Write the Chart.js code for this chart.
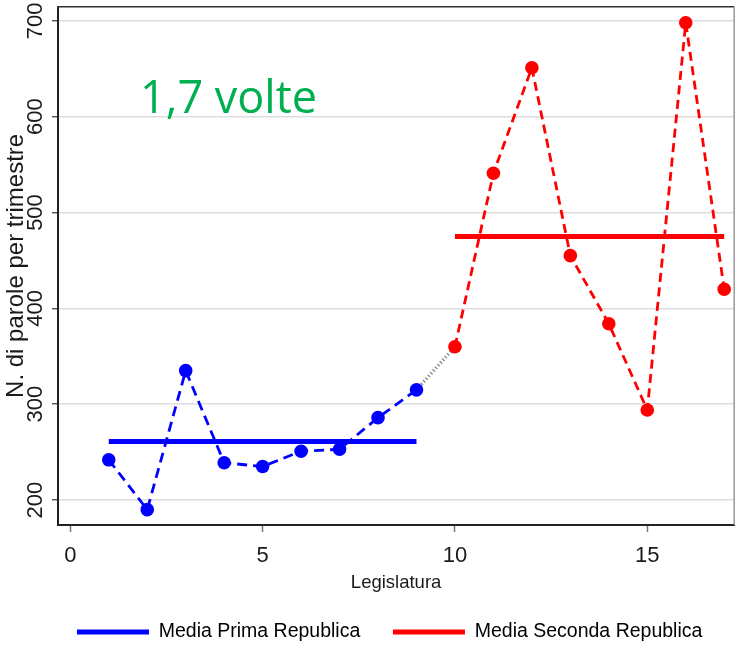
<!DOCTYPE html>
<html>
<head>
<meta charset="utf-8">
<script src="https://cdn.jsdelivr.net/npm/chart.js@4/dist/chart.umd.min.js"></script>
<style>
html,body{margin:0;padding:0;background:#fff}
canvas{display:block}
</style>
</head>
<body>
<canvas id="c" width="741" height="649"></canvas>
<script>
// ---- data ----
const primaLegislature = [1, 2, 3, 4, 5, 6, 7, 8, 9];
const primaValues = [242, 190, 335, 239, 235, 251, 253, 286, 315];
const secondaLegislature = [10, 11, 12, 13, 14, 15, 16, 17];
const secondaValues = [360, 541, 651, 455, 384, 294, 698, 420];
const primaMean = 261;
const secondaMean = 475;
const meanLabels = ['Media Prima Republica', 'Media Seconda Republica'];
const xTickValues = [0, 5, 10, 15];
const yTickValues = [200, 300, 400, 500, 600, 700];
const annotationText = '1,7 volte';
const xTitle = 'Legislatura';
const yTitle = 'N. di parole per trimestre';

// ---- styles ----
const BLUE = '#0000FF';
const RED = '#FF0000';
const FONT = '"Liberation Sans", Arial, sans-serif';
Chart.defaults.font.family = FONT;

const toPoints = (xs, ys) => xs.map((x, i) => ({x: x, y: ys[i]}));

const primaPts = toPoints(primaLegislature, primaValues);
const secondaPts = toPoints(secondaLegislature, secondaValues);
const connectorPts = [primaPts[primaPts.length - 1], secondaPts[0]];
const primaMeanPts = [
  {x: primaLegislature[0], y: primaMean},
  {x: primaLegislature[primaLegislature.length - 1], y: primaMean}
];
const secondaMeanPts = [
  {x: secondaLegislature[0], y: secondaMean},
  {x: secondaLegislature[secondaLegislature.length - 1], y: secondaMean}
];

const framePlugin = {
  id: 'frame',
  afterDraw(chart) {
    const {ctx, chartArea: a} = chart;
    ctx.save();
    ctx.lineWidth = 1.5;
    ctx.strokeStyle = '#333';
    ctx.beginPath();
    ctx.moveTo(a.left - 1, a.top);
    ctx.lineTo(a.right, a.top);
    ctx.stroke();
    ctx.strokeStyle = '#9a9a9a';
    ctx.beginPath();
    ctx.moveTo(a.right, a.top);
    ctx.lineTo(a.right, a.bottom);
    ctx.stroke();
    ctx.restore();
  }
};

const notePlugin = {
  id: 'note',
  afterDatasetsDraw(chart) {
    const {ctx, chartArea: a} = chart;
    ctx.save();
    ctx.font = '45px "Open Sans", sans-serif';
    ctx.fillStyle = '#00B050';
    ctx.textAlign = 'left';
    ctx.textBaseline = 'alphabetic';
    ctx.fillText(annotationText, a.left + 82, a.top + 106);
    ctx.restore();
  }
};

new Chart(document.getElementById('c'), {
  type: 'scatter',
  data: {
    datasets: [
      {
        label: meanLabels[0], data: primaMeanPts, showLine: true,
        borderColor: BLUE, backgroundColor: BLUE, borderWidth: 5,
        pointRadius: 0, borderCapStyle: 'butt'
      },
      {
        label: meanLabels[1], data: secondaMeanPts, showLine: true,
        borderColor: RED, backgroundColor: RED, borderWidth: 5,
        pointRadius: 0, borderCapStyle: 'butt'
      },
      {
        label: 'Prima', data: primaPts, showLine: true,
        borderColor: BLUE, backgroundColor: BLUE, borderWidth: 2.8,
        borderDash: [10, 6], pointRadius: 6.8, pointBorderWidth: 0
      },
      {
        label: 'Seconda', data: secondaPts, showLine: true,
        borderColor: RED, backgroundColor: RED, borderWidth: 2.8,
        borderDash: [9, 5.5], pointRadius: 6.8, pointBorderWidth: 0
      },
      {
        label: 'link', data: connectorPts, showLine: true,
        borderColor: '#8c8c8c', borderWidth: 3.5,
        borderDash: [1.4, 2.2], pointRadius: 0
      }
    ]
  },
  options: {
    responsive: false,
    animation: false,
    devicePixelRatio: 1,
    layout: {padding: {left: 0, right: 6, top: 6, bottom: -2.75}},
    plugins: {
      tooltip: {enabled: false},
      legend: {
        position: 'bottom',
        fullSize: true,
        align: 'end',
        labels: {
          boxWidth: 72,
          boxHeight: 5,
          padding: 32.65,
          color: '#1a1a1a',
          font: {size: 19.5, family: FONT},
          generateLabels: () => meanLabels.map((t, i) => ({
            text: t,
            fillStyle: i === 0 ? BLUE : RED,
            strokeStyle: i === 0 ? BLUE : RED,
            lineWidth: 0,
            hidden: false,
            datasetIndex: i
          }))
        }
      }
    },
    scales: {
      x: {
        type: 'linear',
        min: -0.32,
        max: 17.26,
        afterBuildTicks: s => { s.ticks = xTickValues.map(v => ({value: v})); },
        afterFit: s => { s.height = 64.6; },
        ticks: {
          padding: 10.8,
          color: '#1a1a1a',
          font: {size: 22, family: FONT}
        },
        grid: {
          drawOnChartArea: false,
          drawTicks: true,
          tickLength: 7,
          tickColor: '#777',
          tickWidth: 1.5
        },
        border: {display: true, color: '#222', width: 2},
        title: {
          display: true, text: xTitle, color: '#1a1a1a',
          font: {size: 18.5, family: FONT},
          padding: {top: 0, bottom: -4}
        }
      },
      y: {
        type: 'linear',
        min: 174,
        max: 714.6,
        afterBuildTicks: s => { s.ticks = yTickValues.map(v => ({value: v})); },
        afterFit: s => { s.width = 58; },
        ticks: {
          minRotation: 90,
          maxRotation: 90,
          crossAlign: 'center',
          padding: -2.35,
          color: '#1a1a1a',
          font: {size: 22, family: FONT, lineHeight: 0.7}
        },
        grid: {
          color: '#dedede',
          lineWidth: 1.5,
          tickColor: '#333',
          tickLength: 6,
          tickWidth: 1.2
        },
        border: {display: true, color: '#222', width: 2},
        title: {
          display: true, text: yTitle, color: '#1a1a1a',
          font: {size: 24, family: FONT},
          padding: {top: 1.6, bottom: 0}
        }
      }
    }
  },
  plugins: [framePlugin, notePlugin]
});
</script>
</body>
</html>
